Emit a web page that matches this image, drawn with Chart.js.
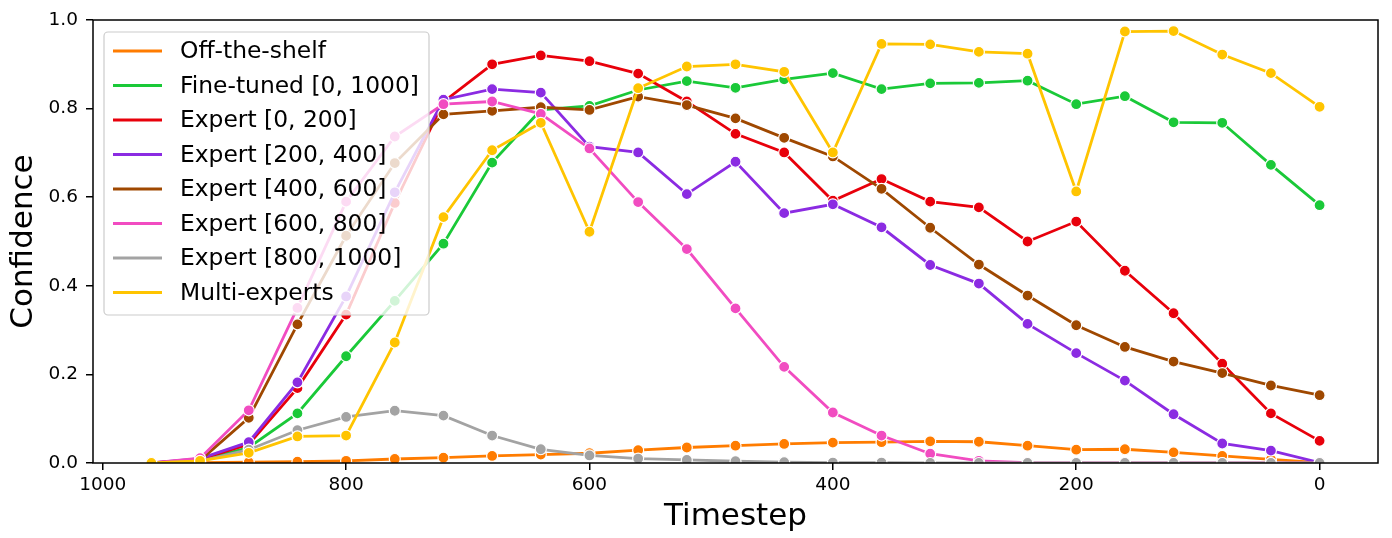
<!DOCTYPE html>
<html>
<head>
<meta charset="utf-8">
<script src="https://cdn.jsdelivr.net/npm/chart.js@4.4.1/dist/chart.umd.min.js"></script>
<style>
  body { margin: 0; background: #fff; }
  #wrap { width: 1392px; height: 538px; }
</style>
</head>
<body>
<div id="wrap"><canvas id="grafico_confianca" width="1392" height="538"></canvas></div>
<script>
/* Confidence per timestep, one array per model */
const timesteps = [960, 920, 880, 840, 800, 760, 720, 680, 640, 600, 560, 520, 480,
                   440, 400, 360, 320, 280, 240, 200, 160, 120, 80, 40, 0];

const offTheShelf = [0, 0.001, 0.002, 0.003, 0.005, 0.009, 0.012, 0.016, 0.019, 0.022, 0.029, 0.035, 0.039,
                     0.043, 0.046, 0.047, 0.049, 0.048, 0.039, 0.030, 0.031, 0.024, 0.016, 0.008, 0.001];
const fineTuned = [0, 0.006, 0.035, 0.112, 0.241, 0.366, 0.495, 0.678, 0.797, 0.806, 0.842, 0.862, 0.847,
                   0.866, 0.880, 0.844, 0.857, 0.858, 0.863, 0.810, 0.828, 0.769, 0.768, 0.673, 0.582];
const expert0_200 = [0, 0.008, 0.042, 0.169, 0.335, 0.587, 0.815, 0.900, 0.920, 0.907, 0.879, 0.816, 0.743,
                     0.701, 0.592, 0.641, 0.590, 0.577, 0.500, 0.545, 0.434, 0.338, 0.224, 0.112, 0.050];
const expert200_400 = [0, 0.010, 0.047, 0.182, 0.376, 0.611, 0.820, 0.844, 0.836, 0.714, 0.701, 0.607, 0.680,
                       0.564, 0.584, 0.532, 0.447, 0.405, 0.314, 0.248, 0.186, 0.110, 0.044, 0.028, 0.001];
const expert400_600 = [0, 0.006, 0.102, 0.313, 0.513, 0.677, 0.787, 0.795, 0.803, 0.797, 0.827, 0.808, 0.778,
                       0.734, 0.692, 0.619, 0.531, 0.448, 0.378, 0.311, 0.262, 0.229, 0.203, 0.175, 0.153];
const expert600_800 = [0, 0.011, 0.119, 0.350, 0.590, 0.737, 0.810, 0.816, 0.788, 0.710, 0.589, 0.483, 0.349,
                       0.217, 0.114, 0.062, 0.021, 0.005, 0.001, 0, 0, 0, 0, 0, 0];
const expert800_1000 = [0, 0.004, 0.030, 0.074, 0.104, 0.118, 0.107, 0.062, 0.031, 0.017, 0.010, 0.007, 0.004,
                        0.002, 0.001, 0.001, 0, 0, 0, 0, 0, 0, 0, 0, 0];
const multiExperts = [0, 0.005, 0.023, 0.060, 0.062, 0.272, 0.555, 0.706, 0.768, 0.522, 0.846, 0.895, 0.900,
                      0.883, 0.701, 0.946, 0.945, 0.928, 0.924, 0.613, 0.974, 0.975, 0.922, 0.880, 0.804];

const seriesLabels = ['Off-the-shelf', 'Fine-tuned [0, 1000]', 'Expert [0, 200]', 'Expert [200, 400]',
                      'Expert [400, 600]', 'Expert [600, 800]', 'Expert [800, 1000]', 'Multi-experts'];
const seriesValues = [offTheShelf, fineTuned, expert0_200, expert200_400,
                      expert400_600, expert600_800, expert800_1000, multiExperts];
const xTicks = [0, 200, 400, 600, 800, 1000];
const yTicks = [0, 0.2, 0.4, 0.6, 0.8, 1.0];

const cores = ['#ff7c00', '#1ac938', '#e8000b', '#8b2be2', '#9f4800', '#f14cc1', '#a3a3a3', '#ffc400'];
const FONTE = "'DejaVu Sans', sans-serif";

const datasets = seriesLabels.map(function (label, i) {
    return {
        label: label,
        data: timesteps.map(function (t, j) { return { x: t, y: seriesValues[i][j] }; }),
        borderColor: cores[i],
        backgroundColor: cores[i],
        pointBackgroundColor: cores[i],
        pointBorderColor: '#ffffff',
        pointBorderWidth: 1.2,
        pointRadius: 5.5,
        borderWidth: 2.8,
        tension: 0,
        order: seriesLabels.length - 1 - i   // last series on top, like matplotlib
    };
});

// legend box inside the axes (upper left)
const legendaCaixa = {
    id: 'legendaCaixa',
    afterDatasetsDraw(chart) {
        const ctx = chart.ctx;
        const a = chart.chartArea;
        const bx = a.left + 11, by = a.top + 12, bw = 325, bh = 283;
        ctx.save();
        ctx.beginPath();
        ctx.roundRect(bx, by, bw, bh, 4);
        ctx.fillStyle = 'rgba(255,255,255,0.8)';
        ctx.fill();
        ctx.strokeStyle = '#cccccc';
        ctx.lineWidth = 1.2;
        ctx.stroke();
        ctx.font = '23.4px ' + FONTE;
        ctx.textBaseline = 'middle';
        ctx.textAlign = 'left';
        seriesLabels.forEach(function (label, i) {
            const yy = by + 19 + i * 34.5;
            ctx.beginPath();
            ctx.moveTo(bx + 9, yy);
            ctx.lineTo(bx + 58, yy);
            ctx.strokeStyle = cores[i];
            ctx.lineWidth = 2.8;
            ctx.stroke();
            ctx.fillStyle = '#000';
            ctx.fillText(label, bx + 76, yy + 1);
        });
        ctx.restore();
    }
};

// full black frame around the plot
const moldura = {
    id: 'moldura',
    afterDraw(chart) {
        const ctx = chart.ctx;
        const a = chart.chartArea;
        ctx.save();
        ctx.strokeStyle = '#000';
        ctx.lineWidth = 1.5;
        ctx.strokeRect(a.left, a.top, a.right - a.left, a.bottom - a.top);
        ctx.restore();
    }
};

const config = {
    type: 'line',
    data: { datasets: datasets },
    options: {
        responsive: false,
        animation: false,
        devicePixelRatio: 1,
        layout: { padding: { left: 0, right: 14, top: 20, bottom: 0 } },
        plugins: {
            legend: { display: false },
            tooltip: { enabled: false }
        },
        scales: {
            x: {
                type: 'linear',
                reverse: true,
                min: -48,
                max: 1008,
                afterBuildTicks: function (s) { s.ticks = xTicks.map(function (v) { return { value: v }; }); },
                afterFit: function (s) { s.height = 75; },
                border: { display: false },
                grid: { drawOnChartArea: false, drawTicks: true, tickLength: 7, color: '#000', lineWidth: 1.5 },
                ticks: { color: '#000', font: { family: FONTE, size: 18.5 }, padding: 4, maxRotation: 0,
                         callback: function (v) { return String(v); } },
                title: { display: true, text: 'Timestep', color: '#000', font: { family: FONTE, size: 31 }, padding: { top: 0, bottom: 2 } }
            },
            y: {
                min: 0,
                max: 1,
                afterBuildTicks: function (s) { s.ticks = yTicks.map(function (v) { return { value: v }; }); },
                afterFit: function (s) { s.width = 93; },
                border: { display: false },
                grid: { drawOnChartArea: false, drawTicks: true, tickLength: 7, color: '#000', lineWidth: 1.5 },
                ticks: { color: '#000', font: { family: FONTE, size: 18.5 }, padding: 8,
                         callback: function (v) { return v.toFixed(1); } },
                title: { display: true, text: 'Confidence', color: '#000', font: { family: FONTE, size: 31 }, padding: { top: 5, bottom: 0 } }
            }
        }
    },
    plugins: [legendaCaixa, moldura]
};

const graficoConfianca = new Chart(document.getElementById('grafico_confianca'), config);
</script>
</body>
</html>
